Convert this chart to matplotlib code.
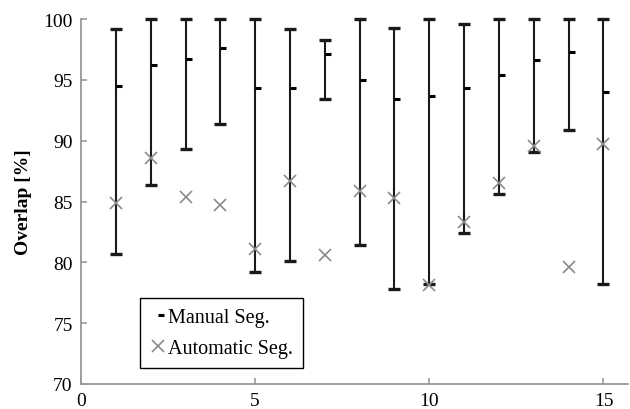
import matplotlib
matplotlib.use("Agg")
import matplotlib.pyplot as plt
from matplotlib.path import Path
from matplotlib.lines import Line2D
import numpy as np

cases = [1, 2, 3, 4, 5, 6, 7, 8, 9, 10, 11, 12, 13, 14, 15]
manual_max = [99.2, 100, 100, 100, 100, 99.2, 98.3, 100, 99.3, 100, 99.6, 100, 100, 100, 100]
manual_mean = [94.5, 96.2, 96.7, 97.6, 94.3, 94.3, 97.1, 95.0, 93.4, 93.7, 94.3, 95.4, 96.6, 97.3, 94.0]
manual_min = [80.7, 86.4, 89.3, 91.4, 79.2, 80.1, 93.4, 81.4, 77.8, 78.2, 82.4, 85.6, 89.1, 90.9, 78.2]
auto_seg = [84.9, 88.6, 85.4, 84.7, 81.1, 86.7, 80.6, 85.9, 85.3, 78.1, 83.3, 86.5, 89.6, 79.6, 89.7]

plt.rcParams['font.family'] = ['Liberation Serif', 'DejaVu Serif']

fig = plt.figure(figsize=(6.3, 4.1), dpi=100)
ax = fig.add_axes([0.1286, 0.061, 0.868, 0.890])

x = np.array(cases)
mean = np.array(manual_mean)
lo = mean - np.array(manual_min)
hi = np.array(manual_max) - mean

ax.errorbar(x, mean, yerr=[lo, hi], fmt='none', ecolor='#1a1a1a',
            elinewidth=1.5, capsize=4, capthick=2.4, zorder=2, clip_on=False)

dash = Path([(0, 0), (1, 0)], [Path.MOVETO, Path.LINETO])
ax.plot(x, mean, linestyle='none', marker=dash, markersize=9,
        markeredgewidth=2.2, color='black', zorder=3)
ax.plot(x, auto_seg, linestyle='none', marker='x', markersize=8.5,
        markeredgewidth=1.2, color='#8a8a8a', zorder=4)

ax.set_xlim(0, 15.7)
ax.set_ylim(70, 100)
ax.set_xticks([0, 5, 10, 15])
ax.set_yticks([70, 75, 80, 85, 90, 95, 100])
ax.set_ylabel('Overlap [%]', fontsize=14, fontweight='bold', labelpad=8)

for s in ['top', 'right']:
    ax.spines[s].set_visible(False)
for s in ['left', 'bottom']:
    ax.spines[s].set_color('#999999')
    ax.spines[s].set_linewidth(1.3)
ax.tick_params(direction='in', length=4, width=1.2, color='#999999',
               labelsize=14, pad=6)

h1 = Line2D([], [], linestyle='none', marker=dash, markersize=9,
            markeredgewidth=2.2, color='black')
h2 = Line2D([], [], linestyle='none', marker='x', markersize=8.5,
            markeredgewidth=1.2, color='#8a8a8a')
leg = ax.legend([h1, h2], ['Manual Seg.', 'Automatic Seg.'],
                loc='lower left', bbox_to_anchor=(0.108, 0.044),
                borderaxespad=0, fancybox=False, framealpha=1,
                edgecolor='black', fontsize=14.5, handlelength=0.8,
                handletextpad=0.1, borderpad=0.5, labelspacing=0.6)
leg.get_frame().set_linewidth(1.0)

fig.savefig('out.png', dpi=100)
